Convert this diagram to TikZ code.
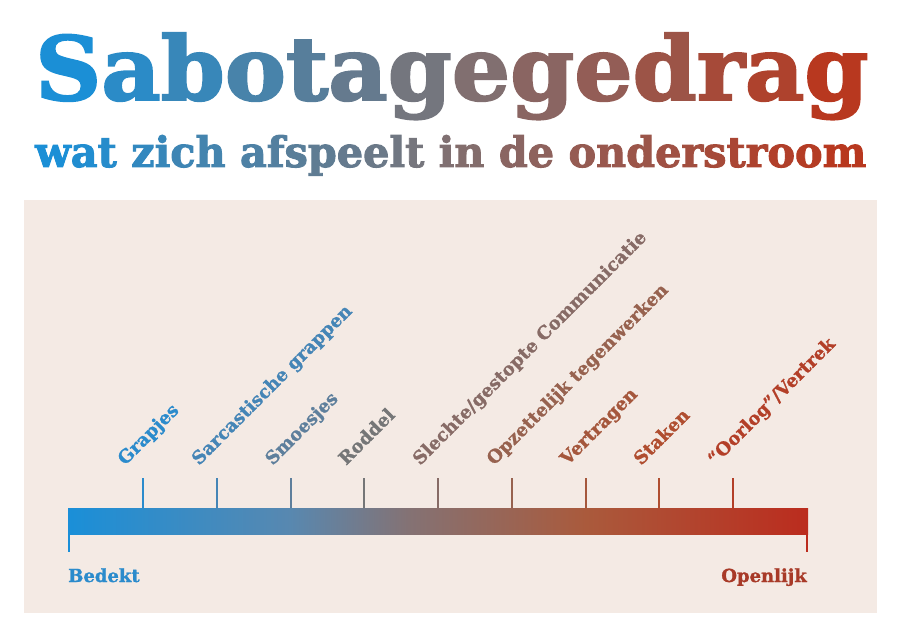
\documentclass[tikz,border=0pt]{standalone}
\usepackage{fontspec}
\setmainfont{DejaVu Serif}
\newfontfamily\heavyfont[FakeBold=2.2]{DejaVu Serif Bold}
\newfontfamily\lblfont[FakeBold=1.2]{DejaVu Serif Bold}
\usepackage{graphicx}
\definecolor{cBlueT}{HTML}{1B8FD6}
\definecolor{cMidT}{HTML}{7C7477}
\definecolor{cRedT}{HTML}{B8381F}
\definecolor{panel}{HTML}{F4EAE4}
\definecolor{bBlue}{HTML}{1A8FD8}
\definecolor{bSteel}{HTML}{5888B0}
\definecolor{bMid}{HTML}{847274}
\definecolor{bBrown}{HTML}{AA5A3C}
\definecolor{bRed}{HTML}{BB2C1E}
\definecolor{lGrap}{HTML}{2B8BCC}
\definecolor{lSarc}{HTML}{4585B6}
\definecolor{lSmoe}{HTML}{5E7F9C}
\definecolor{lRodd}{HTML}{757677}
\definecolor{lSlec}{HTML}{876B66}
\definecolor{lOpze}{HTML}{97624F}
\definecolor{lVert}{HTML}{A5573C}
\definecolor{lStak}{HTML}{B04E30}
\definecolor{lOorl}{HTML}{B33F28}
\definecolor{lOpen}{HTML}{A83A28}
\pgfdeclarehorizontalshading{bargrad}{100bp}{color(0bp)=(bBlue); color(25bp)=(bBlue); color(40bp)=(bSteel); color(48bp)=(bMid); color(60bp)=(bBrown); color(75bp)=(bRed); color(100bp)=(bRed)}
\newcommand\gl[2]{%
  \pgfmathtruncatemacro\gp{#1}%
  \ifnum\gp<50
    \pgfmathtruncatemacro\gq{2*\gp}\colorlet{gtmp}{cMidT!\gq!cBlueT}%
  \else
    \pgfmathtruncatemacro\gq{2*\gp-100}\colorlet{gtmp}{cRedT!\gq!cMidT}%
  \fi
  \textcolor{gtmp}{#2}}
\tikzset{
  lbl/.style={anchor=base west, rotate=45, inner sep=0pt, font=\fontsize{18}{20}\lblfont},
  endlbl/.style={inner sep=0pt, font=\fontsize{18}{20}\lblfont},
  tick/.style={line width=2pt}
}
\begin{document}
\begin{tikzpicture}[x=1pt,y=-1pt]
\useasboundingbox (0,0) rectangle (903,639);
\fill[white] (0,0) rectangle (903,639);
\fill[panel] (24,200) rectangle (877,613);
\node[anchor=base west, inner sep=0pt] (title) at (35,100)
  {\resizebox{833pt}{67pt}{\heavyfont\gl{0}{S}\gl{8}{a}\gl{15}{b}\gl{23}{o}\gl{31}{t}\gl{38}{a}\gl{46}{g}\gl{54}{e}\gl{62}{g}\gl{69}{e}\gl{77}{d}\gl{85}{r}\gl{92}{a}\gl{100}{g}}};
\node[anchor=base west, inner sep=0pt] (subtitle) at (35,167)
  {\resizebox{831pt}{32pt}{\heavyfont\gl{0}{w}\gl{3}{a}\gl{6}{t} \gl{12}{z}\gl{15}{i}\gl{18}{c}\gl{21}{h} \gl{26}{a}\gl{29}{f}\gl{32}{s}\gl{35}{p}\gl{38}{e}\gl{41}{e}\gl{44}{l}\gl{47}{t} \gl{53}{i}\gl{56}{n} \gl{62}{d}\gl{65}{e} \gl{71}{o}\gl{74}{n}\gl{76}{d}\gl{79}{e}\gl{82}{r}\gl{85}{s}\gl{88}{t}\gl{91}{r}\gl{94}{o}\gl{97}{o}\gl{100}{m}}};
% bar
\shade[shading=bargrad] (68,508) rectangle (808,534);
\draw[tick, bBlue] (69,534) -- (69,552);
\draw[tick, bRed] (807,534) -- (807,552);
% ticks
\draw[tick, lGrap] (143,478) -- (143,508);
\draw[tick, lSarc] (217,478) -- (217,508);
\draw[tick, lSmoe] (290.5,478) -- (290.5,508);
\draw[tick, lRodd] (364,478) -- (364,508);
\draw[tick, lSlec] (438,478) -- (438,508);
\draw[tick, lOpze] (512,478) -- (512,508);
\draw[tick, lVert] (585.5,478) -- (585.5,508);
\draw[tick, lStak] (659,478) -- (659,508);
\draw[tick, lOorl] (733,478) -- (733,508);
% labels
\node[lbl, text=lGrap] (l1) at (125,466) {Grapjes};
\node[lbl, text=lSarc] (l2) at (199,466) {Sarcastische grappen};
\node[lbl, text=lSmoe] (l3) at (272.5,466) {Smoesjes};
\node[lbl, text=lRodd] (l4) at (346,466) {Roddel};
\node[lbl, text=lSlec] (l5) at (420,466) {Slechte/gestopte Communicatie};
\node[lbl, text=lOpze] (l6) at (494,466) {Opzettelijk tegenwerken};
\node[lbl, text=lVert] (l7) at (567.5,466) {Vertragen};
\node[lbl, text=lStak] (l8) at (641,466) {Staken};
\node[lbl, text=lOorl] (l9) at (715,466) {“Oorlog”/Vertrek};
\node[endlbl, anchor=base west, text=lGrap] (bedekt) at (68,582) {Bedekt};
\node[endlbl, anchor=base east, text=lOpen] (openlijk) at (807,582) {Openlijk};
\end{tikzpicture}
\end{document}
